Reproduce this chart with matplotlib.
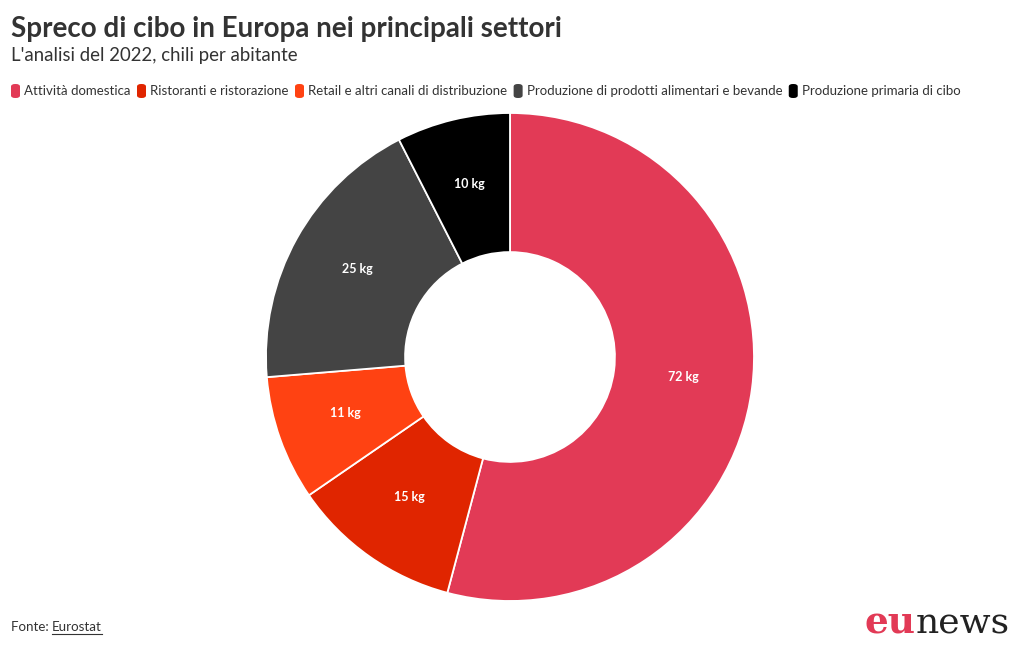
import matplotlib
matplotlib.use("Agg")
import matplotlib.pyplot as plt
from matplotlib.patches import FancyBboxPatch
import numpy as np

categories = ["Attività domestica", "Ristoranti e ristorazione",
              "Retail e altri canali di distribuzione",
              "Produzione di prodotti alimentari e bevande",
              "Produzione primaria di cibo"]
values = [72, 15, 11, 25, 10]
labels = ["72 kg", "15 kg", "11 kg", "25 kg", "10 kg"]
colors = ["#e23a56", "#e02500", "#ff4212", "#444444", "#000000"]

W, H = 1020, 650
fig = plt.figure(figsize=(W / 100, H / 100), dpi=100)
FONT = ["Lato", "DejaVu Sans"]

# donut
cx, cy, R = 510, 357, 244
ax = fig.add_axes([(cx - R) / W, (H - cy - R) / H, 2 * R / W, 2 * R / H])
wedges, texts = ax.pie(values, colors=colors, startangle=90, counterclock=False,
                       radius=1.0, labels=labels, labeldistance=None,
                       wedgeprops=dict(width=0.57, edgecolor="white", linewidth=1.3))
total = sum(values)
cum = 0
for v, lab in zip(values, labels):
    mid = 90 - (cum + v / 2) / total * 360
    cum += v
    r = 0.715
    ax.text(r * np.cos(np.radians(mid)), r * np.sin(np.radians(mid)) + 0.012, lab,
            ha="center", va="center", color="white", fontsize=9,
            fontweight="bold", family=FONT)
ax.set_xlim(-1, 1)
ax.set_ylim(-1, 1)
ax.set_aspect("equal")
ax.axis("off")

# titles
fig.text(11 / W, 1 - 29 / H, "Spreco di cibo in Europa nei principali settori",
         fontsize=20, fontweight="bold", color="#333333", family=FONT, va="center")
fig.text(11 / W, 1 - 56 / H, "L'analisi del 2022, chili per abitante",
         fontsize=13.4, color="#333333", family=FONT, va="center")

# legend
fig.canvas.draw()
renderer = fig.canvas.get_renderer()
x = 11
ly = 91
for c, name in zip(colors, categories):
    patch = FancyBboxPatch((x / W, (H - ly - 7) / H), 9 / W, 14 / H,
                           boxstyle="round,pad=0,rounding_size=0.004",
                           transform=fig.transFigure, facecolor=c, edgecolor="none")
    fig.patches.append(patch)
    t = fig.text((x + 13) / W, 1 - ly / H, name, fontsize=9.55, color="#333333",
                 family=FONT, va="center")
    bb = t.get_window_extent(renderer)
    x = x + 13 + bb.width + 6.5

# source
t1 = fig.text(11 / W, 1 - 627 / H, "Fonte: ", fontsize=9.6, color="#333333",
              family=FONT, va="center")
bb = t1.get_window_extent(renderer)
x2 = 11 + bb.width
t2 = fig.text(x2 / W, 1 - 627 / H, "Eurostat", fontsize=9.6, color="#333333",
              family=FONT, va="center")
bb2 = t2.get_window_extent(renderer)
fig.add_artist(plt.Line2D([x2 / W, (x2 + bb2.width) / W], [1 - 634 / H, 1 - 634 / H],
                          color="#333333", linewidth=0.8, transform=fig.transFigure))

# logo
tn = fig.text(1010 / W, 1 - 634 / H, "news", fontsize=26, color="#222222",
              family=["DejaVu Serif"], ha="right", va="baseline")
bbn = tn.get_window_extent(renderer)
fig.text(bbn.x0 / W, 1 - 634 / H, "eu", fontsize=27, color="#e23a56",
         family=["DejaVu Serif"], fontweight="bold", ha="right", va="baseline")

fig.savefig("out.png", dpi=100, facecolor="white")
